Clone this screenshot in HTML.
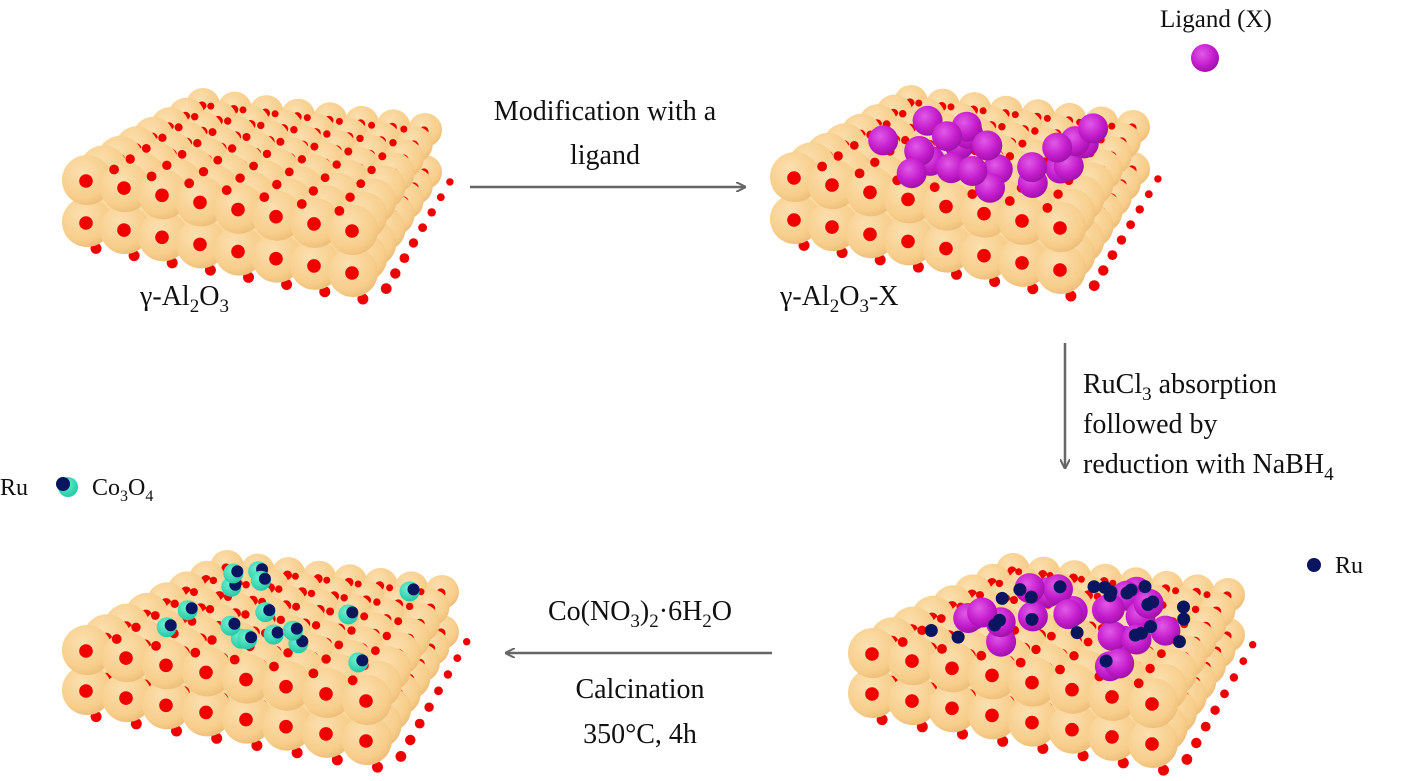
<!DOCTYPE html>
<html><head><meta charset="utf-8"><style>
body{margin:0;background:#fff;}
svg{display:block;}
text{font-family:"Liberation Serif",serif;fill:#111;}
</style></head><body>
<svg id="s" width="1427" height="781" viewBox="0 0 1427 781" xmlns="http://www.w3.org/2000/svg">
<defs>
<radialGradient id="g" cx="0.4" cy="0.35" r="0.75"><stop offset="0" stop-color="#fce0b0"/><stop offset="0.7" stop-color="#f7cd8a"/><stop offset="1" stop-color="#e8b670"/></radialGradient>
<radialGradient id="p" cx="0.4" cy="0.35" r="0.7"><stop offset="0" stop-color="#e15ae8"/><stop offset="0.6" stop-color="#c41ccc"/><stop offset="1" stop-color="#9a10a4"/></radialGradient>
<radialGradient id="c" cx="0.4" cy="0.35" r="0.7"><stop offset="0" stop-color="#6ff0d0"/><stop offset="1" stop-color="#1fc7a4"/></radialGradient>
<marker id="ah" markerWidth="10" markerHeight="10" refX="9" refY="5" orient="auto" markerUnits="userSpaceOnUse"><path d="M0,0 L10,5 L0,10" fill="none" stroke="#666" stroke-width="2"/></marker>
</defs>
<g id="slabs"></g>
<line x1="470" y1="187" x2="745" y2="187" stroke="#666" stroke-width="2.5" marker-end="url(#ah)"/>
<line x1="1065" y1="343" x2="1065" y2="468" stroke="#666" stroke-width="2.5" marker-end="url(#ah)"/>
<line x1="772" y1="653" x2="506" y2="653" stroke="#666" stroke-width="2.5" marker-end="url(#ah)"/>
<text x="605" y="120" font-size="28" text-anchor="middle">Modification with a</text>
<text x="605" y="164" font-size="28" text-anchor="middle">ligand</text>
<text x="140" y="305" font-size="28">γ-Al<tspan font-size="19" dy="7">2</tspan><tspan dy="-7">O</tspan><tspan font-size="19" dy="7">3</tspan></text>
<text x="780" y="305" font-size="28">γ-Al<tspan font-size="19" dy="7">2</tspan><tspan dy="-7">O</tspan><tspan font-size="19" dy="7">3</tspan><tspan dy="-7">-X</tspan></text>
<text x="1160" y="27" font-size="25">Ligand (X)</text>
<circle cx="1205" cy="58" r="14" fill="url(#p)"/>
<text x="1083" y="393" font-size="28">RuCl<tspan font-size="19" dy="7">3</tspan><tspan dy="-7"> absorption</tspan></text>
<text x="1083" y="433" font-size="28">followed by</text>
<text x="1083" y="473" font-size="28">reduction with NaBH<tspan font-size="19" dy="7">4</tspan></text>
<circle cx="1314" cy="565" r="7" fill="#0a1560"/>
<text x="1335" y="573" font-size="24">Ru</text>
<text x="0" y="495" font-size="24">Ru</text>
<circle cx="68" cy="487" r="10" fill="url(#c)"/><circle cx="63" cy="484" r="7" fill="#0a1560"/>
<text x="92" y="495" font-size="24">Co<tspan font-size="16" dy="6">3</tspan><tspan dy="-6">O</tspan><tspan font-size="16" dy="6">4</tspan></text>
<text x="640" y="620" font-size="28" text-anchor="middle">Co(NO<tspan font-size="19" dy="7">3</tspan><tspan dy="-7">)</tspan><tspan font-size="19" dy="7">2</tspan><tspan dy="-7">·6H</tspan><tspan font-size="19" dy="7">2</tspan><tspan dy="-7">O</tspan></text>
<text x="640" y="698" font-size="28" text-anchor="middle">Calcination</text>
<text x="640" y="743" font-size="28" text-anchor="middle">350°C, 4h</text>
</svg>
<script>
var NS="http://www.w3.org/2000/svg",G=document.getElementById("slabs");
function C(x,y,r,f){var e=document.createElementNS(NS,"circle");e.setAttribute("cx",x.toFixed(1));e.setAttribute("cy",y.toFixed(1));e.setAttribute("r",r.toFixed(1));e.setAttribute("fill",f);G.appendChild(e);}
var seed=7;function rnd(){seed=(seed*9301+49297)%233280;return seed/233280;}
function slab(FL,FR,BR,BL,h,extra){
 var N=8;
 function P(i,j){var a=i/(N-1),b=j/(N-1);
  var fx=FL[0]+(FR[0]-FL[0])*a,fy=FL[1]+(FR[1]-FL[1])*a,bx=BL[0]+(BR[0]-BL[0])*a,by=BL[1]+(BR[1]-BL[1])*a;
  return [fx+(bx-fx)*b,fy+(by-fy)*b,25-8*b];}
 // edge dots below bottom layer
 for(var i=0;i<N;i++){var q=P(i+0.3,-0.15);C(q[0],q[1]+h+q[2]*0.9,q[2]*0.22,"#ee0000");}
 for(var j=0;j<N;j++){var q=P(N-0.7,j+0.2);C(q[0]+q[2]*0.8,q[1]+h+q[2]*0.7,q[2]*0.22,"#ee0000");}
 for(var L=1;L>=0;L--){
  for(var j=N-1;j>=0;j--)for(var i=0;i<N;i++){var q=P(i,j);var y=q[1]+L*h;C(q[0],y,q[2],"url(#g)");C(q[0]-1,y+1,q[2]*0.27,"#f00000");}
  if(L==0)for(var j=N-1;j>=1;j--)for(var i=0;i<N-1;i++){var q=P(i+0.5,j-0.5);C(q[0],q[1]-q[2]*0.35,q[2]*0.2,"#ee0000");}
 }
 if(extra)extra(P);
}
function lig(P,n,ru){for(var k=0;k<n;k++){var i=1+rnd()*5.5,j=0.8+rnd()*5.5;var q=P(i,j);C(q[0],q[1]-12,15,"url(#p)");}
 if(ru)for(var k=0;k<ru;k++){var i=0.5+rnd()*6.3,j=0.8+rnd()*6;var q=P(i,j);C(q[0],q[1]-6,6.5,"#0a1560");}}
slab([87,180],[353,230],[425,130],[203,105],42);
slab([795,177],[1061,227],[1133,127],[911,102],42,function(P){seed=3;lig(P,22,0);});
slab([873,653],[1153,703],[1228,595],[1013,570],40,function(P){seed=11;lig(P,22,0);seed=5;lig(P,0,26);});
slab([87,650],[367,700],[442,592],[227,567],40,function(P){seed=17;for(var k=0;k<16;k++){var i=0.6+rnd()*6.3,j=0.8+rnd()*6;var q=P(i,j);C(q[0],q[1]-8,10,"url(#c)");C(q[0]+4,q[1]-10,6,"#0a1560");}});
</script>
</body></html>
